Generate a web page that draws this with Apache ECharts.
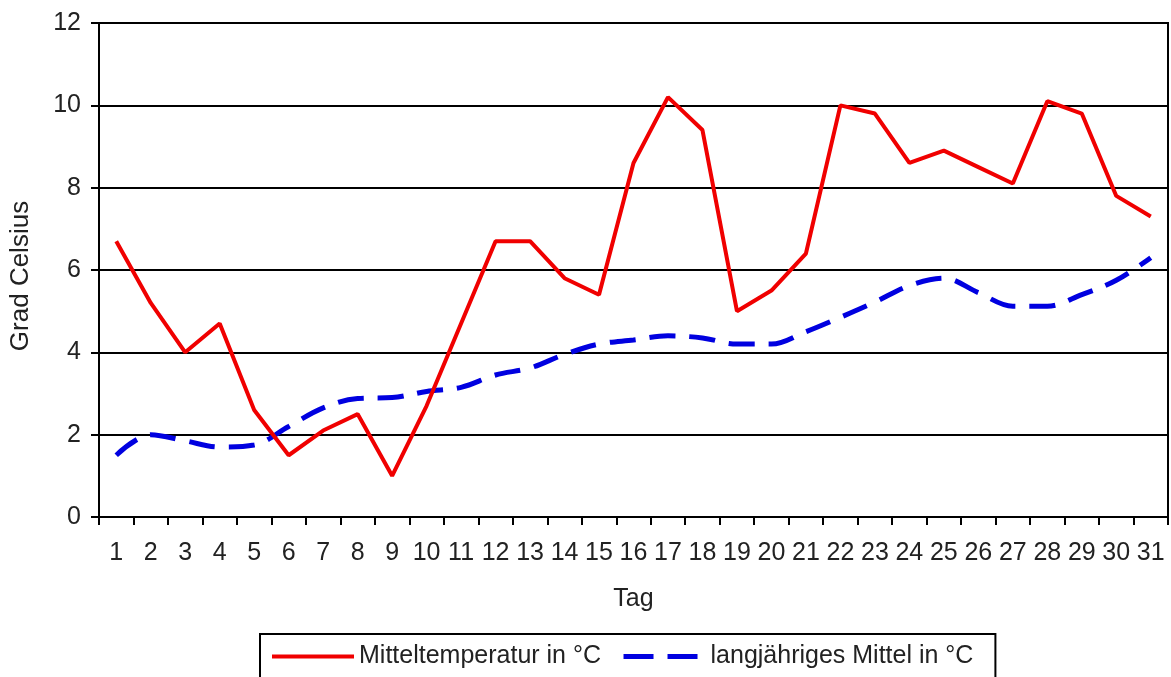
<!DOCTYPE html>
<html>
<head>
<meta charset="utf-8">
<script src="https://cdn.jsdelivr.net/npm/echarts@6/dist/echarts.min.js"></script>
<style>
  html, body { margin: 0; padding: 0; background: #fff; }
  #chart { width: 1171px; height: 677px; }
</style>
</head>
<body>
<div id="chart"></div>
<script>
// Tage des Monats
const tage = ["1","2","3","4","5","6","7","8","9","10","11","12","13","14","15","16","17","18","19","20","21","22","23","24","25","26","27","28","29","30","31"];
// Mitteltemperatur in °C
const mittelTemp = [6.7, 5.2, 4.0, 4.7, 2.6, 1.5, 2.1, 2.5, 1.0, 2.7, 4.7, 6.7, 6.7, 5.8, 5.4, 8.6, 10.2, 9.4, 5.0, 5.5, 6.4, 10.0, 9.8, 8.6, 8.9, 8.5, 8.1, 10.1, 9.8, 7.8, 7.3];
// langjähriges Mittel in °C
const langMittel = [1.5, 2.0, 1.85, 1.7, 1.75, 2.2, 2.65, 2.88, 2.9, 3.05, 3.15, 3.45, 3.62, 3.95, 4.2, 4.3, 4.4, 4.35, 4.2, 4.2, 4.5, 4.85, 5.22, 5.62, 5.8, 5.45, 5.12, 5.12, 5.4, 5.75, 6.3];
const yTicks = { min: 0, max: 12, interval: 2 };

const font = "'Liberation Sans', Arial, sans-serif";
const textCol = "#222";
const chart = echarts.init(document.getElementById("chart"));

const option = {
  animation: false,
  backgroundColor: "#fff",
  textStyle: { fontFamily: font },
  grid: {
    left: 98, right: 3, top: 23, bottom: 160,
    show: true, borderColor: "#000", borderWidth: 2
  },
  legend: {
    top: 634,
    left: 260,
    padding: [10, 22, 12, 10],
    borderColor: "#000",
    borderWidth: 2,
    itemWidth: 82,
    itemHeight: 22,
    itemGap: 20,
    itemStyle: { opacity: 0 },
    textStyle: { fontSize: 25, color: textCol, fontFamily: font },
    data: [
      { name: "Mitteltemperatur in °C", lineStyle: { width: 4 } },
      { name: "langjähriges Mittel in °C", lineStyle: { width: 5, type: [30, 14] } }
    ]
  },
  xAxis: {
    type: "category",
    data: tage,
    name: "Tag",
    nameLocation: "middle",
    nameGap: 70,
    nameTextStyle: { fontSize: 25, color: textCol },
    axisLine: { lineStyle: { color: "#000", width: 2 } },
    axisTick: { show: true, length: 8, lineStyle: { color: "#000", width: 2 } },
    axisLabel: { interval: 0, fontSize: 25, color: textCol, margin: 24 },
    splitLine: { show: false }
  },
  yAxis: {
    type: "value",
    min: yTicks.min,
    max: yTicks.max,
    interval: yTicks.interval,
    name: "Grad Celsius",
    nameLocation: "middle",
    nameGap: 65,
    nameTextStyle: { fontSize: 26, color: textCol, padding: [0, 12, 0, 0] },
    axisLine: { show: true, lineStyle: { color: "#000", width: 2 } },
    axisTick: { show: true, length: 8, lineStyle: { color: "#000", width: 2 } },
    axisLabel: { fontSize: 25, color: textCol, margin: 18 },
    splitLine: { lineStyle: { color: "#000", width: 2 } }
  },
  series: [
    {
      name: "Mitteltemperatur in °C",
      type: "line",
      data: mittelTemp,
      symbol: "none",
      itemStyle: { color: "#f00000" },
      lineStyle: { color: "#f00000", width: 4 },
      z: 3
    },
    {
      name: "langjähriges Mittel in °C",
      type: "line",
      data: langMittel,
      symbol: "none",
      smooth: 0.35,
      itemStyle: { color: "#0000e0" },
      lineStyle: { color: "#0000e0", width: 5, type: [26, 14], cap: "butt" },
      z: 2
    }
  ]
};

chart.setOption(option);
</script>
</body>
</html>
